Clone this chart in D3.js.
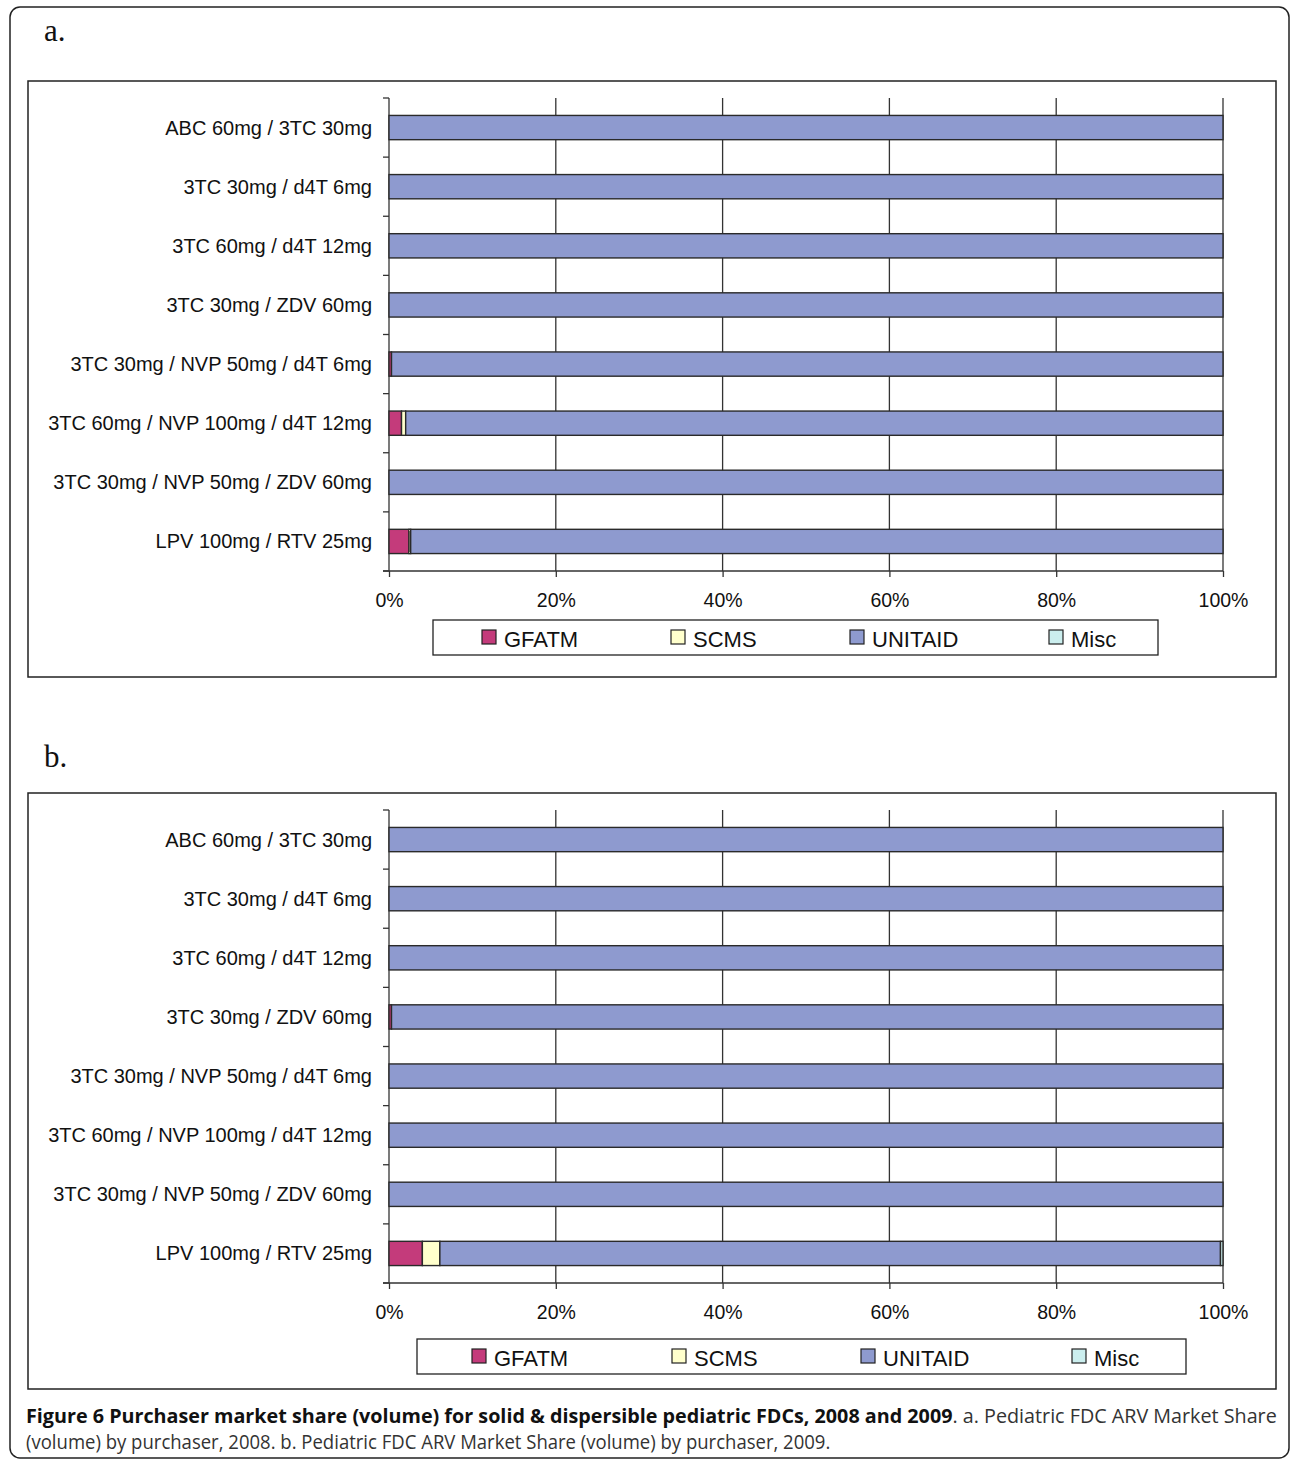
<!DOCTYPE html>
<html>
<head>
<meta charset="utf-8">
<script src="https://cdn.jsdelivr.net/npm/d3@7"></script>
<style>
  html, body { margin: 0; padding: 0; background: #fff; }
  svg { display: block; }
</style>
</head>
<body>
<div id="chart"></div>
<script>
// products, top to bottom
var categories = [
    "ABC 60mg / 3TC 30mg",
    "3TC 30mg / d4T 6mg",
    "3TC 60mg / d4T 12mg",
    "3TC 30mg / ZDV 60mg",
    "3TC 30mg / NVP 50mg / d4T 6mg",
    "3TC 60mg / NVP 100mg / d4T 12mg",
    "3TC 30mg / NVP 50mg / ZDV 60mg",
    "LPV 100mg / RTV 25mg"
];
var purchasers = ["GFATM", "SCMS", "UNITAID", "Misc"];
var colors = ["#c43b7b", "#ffffcc", "#8e9acf", "#cbeeee"];

// market share (%) 2008
var gfatm2008   = [0, 0, 0, 0, 0.3, 1.5, 0, 2.4];
var scms2008    = [0, 0, 0, 0, 0, 0.5, 0, 0.2];
var unitaid2008 = [100, 100, 100, 100, 99.7, 98.0, 100, 97.4];
var misc2008    = [0, 0, 0, 0, 0, 0, 0, 0];

// market share (%) 2009
var gfatm2009   = [0, 0, 0, 0.3, 0, 0, 0, 4.0];
var scms2009    = [0, 0, 0, 0, 0, 0, 0, 2.1];
var unitaid2009 = [100, 100, 100, 99.7, 100, 100, 100, 93.6];
var misc2009    = [0, 0, 0, 0, 0, 0, 0, 0.3];

var xTicks = [0, 20, 40, 60, 80, 100];
var panelLabels = ["a.", "b."];

function rows(g, s, u, m) {
    return categories.map(function(c, i) {
        return {cat: c, GFATM: g[i], SCMS: s[i], UNITAID: u[i], Misc: m[i]};
    });
}

var panels = [
    {label: panelLabels[0], labelY: 41, data: rows(gfatm2008, scms2008, unitaid2008, misc2008),
     box: [28, 81, 1248, 596], top: 98, legend: {x: 433, y: 620, w: 725, items: [482, 671, 850, 1049]}},
    {label: panelLabels[1], labelY: 767, data: rows(gfatm2009, scms2009, unitaid2009, misc2009),
     box: [28, 793, 1248, 596], top: 810, legend: {x: 417, y: 1339, w: 769, items: [472, 672, 861, 1072]}}
];

var W = 1290, H = 1460;
var svg = d3.select("#chart").append("svg")
    .attr("width", W)
    .attr("height", H)
    .style("background-color", "white");

// outer rounded frame
svg.append("rect")
    .attr("x", 10).attr("y", 7)
    .attr("width", 1279).attr("height", 1451)
    .attr("rx", 10).attr("ry", 10)
    .attr("fill", "none")
    .attr("stroke", "#222")
    .attr("stroke-width", 1.5);

var x = d3.scaleLinear().domain([0, 100]).range([389, 1223]);
var stack = d3.stack().keys(purchasers);
var plotH = 473;

panels.forEach(function(p) {
    var g = svg.append("g");

    g.append("text")
        .attr("x", 44).attr("y", p.labelY)
        .style("font-family", "'Liberation Serif', 'DejaVu Serif', serif")
        .style("font-size", "31px")
        .attr("fill", "#111")
        .text(p.label);

    g.append("rect")
        .attr("x", p.box[0]).attr("y", p.box[1])
        .attr("width", p.box[2]).attr("height", p.box[3])
        .attr("fill", "none")
        .attr("stroke", "#222")
        .attr("stroke-width", 1.5);

    var y = d3.scaleBand()
        .domain(categories)
        .range([p.top, p.top + plotH]);

    // vertical grid lines
    g.append("g")
        .selectAll("line")
        .data(xTicks.slice(1))
        .enter()
        .append("line")
        .attr("x1", function(d) { return x(d); })
        .attr("x2", function(d) { return x(d); })
        .attr("y1", p.top)
        .attr("y2", p.top + plotH)
        .attr("stroke", "#333")
        .attr("stroke-width", 1.3);

    // bottom axis
    var xAxis = g.append("g")
        .attr("transform", "translate(0," + (p.top + plotH) + ")")
        .call(d3.axisBottom(x).tickValues(xTicks)
            .tickFormat(function(d) { return d + "%"; })
            .tickSize(6).tickSizeOuter(0).tickPadding(16));
    xAxis.select(".domain").remove();
    xAxis.append("line")
        .attr("x1", x(0) - 6).attr("x2", x(100))
        .attr("stroke", "#333").attr("stroke-width", 1.3);
    xAxis.selectAll(".tick line").attr("stroke", "#333").attr("stroke-width", 1.3);
    xAxis.selectAll("text")
        .style("font-family", "'Liberation Sans', Arial, sans-serif")
        .style("font-size", "19.5px")
        .attr("fill", "#111");

    // left axis: line, ticks at band edges, labels at band centers
    var leftAxis = g.append("g");
    leftAxis.append("line")
        .attr("x1", x(0)).attr("x2", x(0))
        .attr("y1", p.top).attr("y2", p.top + plotH)
        .attr("stroke", "#333").attr("stroke-width", 1.3);
    leftAxis.selectAll(".edge")
        .data(d3.range(categories.length + 1))
        .enter()
        .append("line")
        .attr("class", "edge")
        .attr("x1", x(0) - 6).attr("x2", x(0))
        .attr("y1", function(i) { return p.top + i * y.step(); })
        .attr("y2", function(i) { return p.top + i * y.step(); })
        .attr("stroke", "#333").attr("stroke-width", 1.3);
    leftAxis.selectAll("text")
        .data(categories)
        .enter()
        .append("text")
        .attr("x", x(0) - 17)
        .attr("y", function(d) { return y(d) + y.bandwidth() / 2; })
        .attr("dy", "0.35em")
        .style("text-anchor", "end")
        .style("font-family", "'Liberation Sans', Arial, sans-serif")
        .style("font-size", "20px")
        .attr("fill", "#111")
        .text(function(d) { return d; });

    // stacked bars
    var barH = y.bandwidth() * 0.41;
    var series = stack(p.data);
    g.append("g")
        .selectAll("g")
        .data(series)
        .enter()
        .append("g")
        .attr("fill", function(d, i) { return colors[i]; })
        .selectAll("rect")
        .data(function(d) { return d.filter(function(s) { return s[1] - s[0] > 0; }); })
        .enter()
        .append("rect")
        .attr("x", function(d) { return x(d[0]); })
        .attr("width", function(d) { return x(d[1]) - x(d[0]); })
        .attr("y", function(d) { return y(d.data.cat) + (y.bandwidth() - barH) / 2; })
        .attr("height", barH)
        .attr("stroke", "#2a2a2a")
        .attr("stroke-width", 1.4);

    // legend
    var lg = g.append("g");
    lg.append("rect")
        .attr("x", p.legend.x).attr("y", p.legend.y)
        .attr("width", p.legend.w).attr("height", 35)
        .attr("fill", "none")
        .attr("stroke", "#222")
        .attr("stroke-width", 1.3);
    var items = lg.selectAll(".item")
        .data(purchasers)
        .enter()
        .append("g")
        .attr("class", "item")
        .attr("transform", function(d, i) {
            return "translate(" + p.legend.items[i] + "," + (p.legend.y + 10) + ")";
        });
    items.append("rect")
        .attr("width", 14).attr("height", 14)
        .attr("fill", function(d, i) { return colors[i]; })
        .attr("stroke", "#222")
        .attr("stroke-width", 1.2);
    items.append("text")
        .attr("x", 22).attr("y", 17)
        .style("font-family", "'Liberation Sans', Arial, sans-serif")
        .style("font-size", "22px")
        .attr("fill", "#111")
        .text(function(d) { return d; });
});

// caption
function fitText(sel, width) {
    var w = sel.node().getComputedTextLength();
    var x0 = +sel.attr("x"), y0 = +sel.attr("y");
    sel.attr("transform", "translate(" + x0 + "," + y0 + ") scale(" + (width / w) + ",1) translate(" + (-x0) + "," + (-y0) + ")");
}

var cap1 = svg.append("text")
    .attr("x", 26).attr("y", 1423)
    .style("font-family", "'Open Sans', 'Noto Sans', sans-serif")
    .style("font-size", "20px")
    .attr("fill", "#111");
cap1.append("tspan")
    .style("font-weight", "bold")
    .text("Figure 6 Purchaser market share (volume) for solid & dispersible pediatric FDCs, 2008 and 2009");
cap1.append("tspan")
    .attr("fill", "#333")
    .text(". a. Pediatric FDC ARV Market Share");
fitText(cap1, 1252);

var cap2 = svg.append("text")
    .attr("x", 26).attr("y", 1449)
    .style("font-family", "'Open Sans', 'Noto Sans', sans-serif")
    .style("font-size", "20px")
    .attr("fill", "#333")
    .text("(volume) by purchaser, 2008. b. Pediatric FDC ARV Market Share (volume) by purchaser, 2009.");
fitText(cap2, 805);
</script>
</body>
</html>
